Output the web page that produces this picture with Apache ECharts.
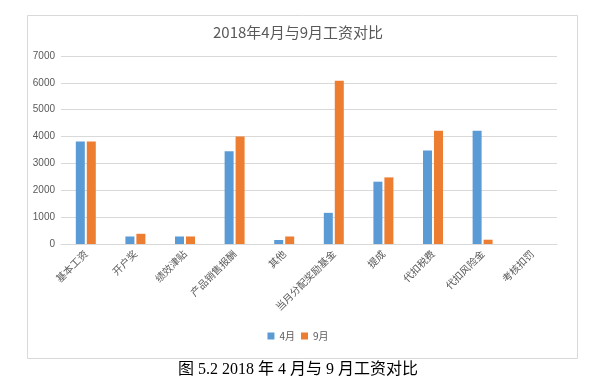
<!DOCTYPE html>
<html><head><meta charset="utf-8">
<script src="https://cdn.jsdelivr.net/npm/echarts@6/dist/echarts.min.js"></script>
<style>html,body{margin:0;padding:0;background:#fff}#c{width:596px;height:382px}</style>
</head><body><div id="c"></div>
<script>
const categories = ['基本工资','开户奖','绩效津贴','产品销售报酬','其他','当月分配奖励基金','提成','代扣税费','代扣风险金','考核扣罚'];
const april = [3820, 280, 280, 3450, 150, 1160, 2320, 3480, 4220, 0];
const september = [3820, 380, 280, 4000, 280, 6080, 2480, 4220, 160, 0];
const yTicks = [0, 1000, 2000, 3000, 4000, 5000, 6000, 7000];

const cjk = "'Noto Sans CJK SC', 'Microsoft YaHei', sans-serif";
const chart = echarts.init(document.getElementById('c'), null, {renderer: 'canvas'});
chart.setOption({
  animation: false,
  backgroundColor: '#ffffff',
  title: {
    text: '2018年4月与9月工资对比',
    left: 'center', top: 20,
    textStyle: {fontFamily: cjk, fontSize: 15, fontWeight: 'normal', color: '#595959'}
  },
  legend: {
    data: ['4月', '9月'],
    left: 'center', top: 326,
    itemWidth: 7, itemHeight: 7, itemGap: 6,
    icon: 'rect',
    textStyle: {fontFamily: cjk, fontSize: 10, color: '#595959'}
  },
  grid: {left: 61, right: 39, top: 56, bottom: 138, containLabel: false},
  xAxis: {
    type: 'category',
    data: categories,
    axisLine: {lineStyle: {color: '#d9d9d9'}},
    axisTick: {show: false},
    axisLabel: {rotate: 45, interval: 0, fontFamily: cjk, fontSize: 10, color: '#595959', margin: 8}
  },
  yAxis: {
    type: 'value',
    min: yTicks[0], max: yTicks[yTicks.length - 1], interval: 1000,
    axisLine: {show: false},
    axisTick: {show: false},
    splitLine: {lineStyle: {color: '#d9d9d9'}},
    axisLabel: {fontFamily: "'Liberation Sans', Arial, sans-serif", fontSize: 10, color: '#595959', margin: 6,
      formatter: function (v) { return String(v); }}
  },
  series: [
    {name: '4月', type: 'bar', data: april, barWidth: 9, barGap: '22%', itemStyle: {color: '#5b9bd5'}},
    {name: '9月', type: 'bar', data: september, barWidth: 9, itemStyle: {color: '#ed7d31'}}
  ],
  graphic: [
    {type: 'rect', shape: {x: 27.5, y: 15.5, width: 550, height: 343}, style: {fill: 'none', stroke: '#d9d9d9', lineWidth: 1}, z: -1},
    {type: 'text', left: 'center', top: 362, style: {text: '图 5.2 2018 年 4 月与 9 月工资对比', font: "16px 'Liberation Serif', 'Noto Sans CJK SC', serif", fill: '#000000'}}
  ]
});
</script></body></html>
